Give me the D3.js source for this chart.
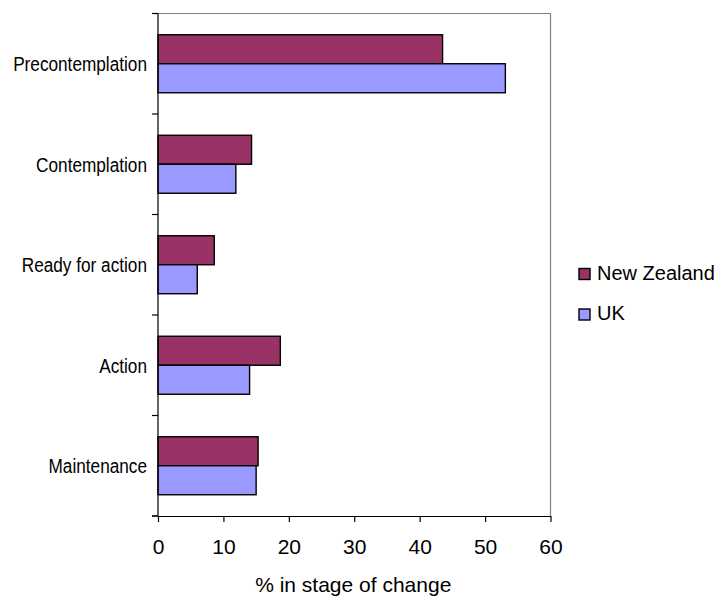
<!DOCTYPE html>
<html>
<head>
<meta charset="utf-8">
<script src="https://cdn.jsdelivr.net/npm/d3@7"></script>
<style>
  html, body { margin: 0; padding: 0; background: #fff; }
  svg { display: block; font-family: "Liberation Sans", Arial, sans-serif; }
</style>
</head>
<body>
<svg id="chart" width="723" height="597"></svg>
<script>
// Stages of change, top to bottom
const stages = ["Precontemplation", "Contemplation", "Ready for action", "Action", "Maintenance"];
const seriesNames = ["New Zealand", "UK"];
const newZealand = [43.5, 14.3, 8.6, 18.7, 15.3];
const uk = [53.1, 11.9, 6.0, 14.0, 15.0];
const xTicks = [0, 10, 20, 30, 40, 50, 60];
const seriesColors = ["#993366", "#9999FF"];

const seriesValues = [newZealand, uk];
const rows = stages.map((s, i) => ({
  stage: s,
  values: seriesNames.map((n, k) => ({ name: n, value: seriesValues[k][i], color: seriesColors[k] }))
}));

const plot = { left: 158, right: 550.5, top: 13.5, bottom: 516 };
const svg = d3.select("#chart");

const x = d3.scaleLinear().domain([0, 60]).range([plot.left, plot.right]);
const y = d3.scaleBand().domain(stages).range([plot.top, plot.bottom]).paddingInner(0.423).paddingOuter(0.2115);
const ySub = d3.scaleBand().domain(seriesNames).range([0, y.bandwidth()]);

// Plot frame: grey top and right edges
svg.append("path")
  .attr("d", `M${plot.left},${plot.top}H${plot.right}V${plot.bottom}`)
  .attr("fill", "none").attr("stroke", "#808080").attr("stroke-width", 1.2);

// Bars
const groups = svg.append("g").selectAll("g").data(rows).join("g")
  .attr("transform", d => `translate(0,${y(d.stage)})`);
groups.selectAll("rect").data(d => d.values).join("rect")
  .attr("x", x(0))
  .attr("y", d => ySub(d.name))
  .attr("width", d => x(d.value) - x(0))
  .attr("height", ySub.bandwidth())
  .attr("fill", d => d.color)
  .attr("stroke", "#000").attr("stroke-width", 1.4);

// Category axis: ticks at band boundaries
const yAxis = svg.append("g");
yAxis.append("line")
  .attr("x1", plot.left).attr("x2", plot.left)
  .attr("y1", plot.top).attr("y2", plot.bottom)
  .attr("stroke", "#000").attr("stroke-width", 1.2);
const step = (plot.bottom - plot.top) / stages.length;
d3.range(stages.length + 1).forEach(i => {
  yAxis.append("line")
    .attr("x1", plot.left - 6).attr("x2", plot.left)
    .attr("y1", plot.top + i * step).attr("y2", plot.top + i * step)
    .attr("stroke", "#000").attr("stroke-width", 1.2);
});
// Narrow-set category labels
yAxis.selectAll("text.cat").data(stages).join("text")
  .attr("class", "cat")
  .attr("x", 147)
  .attr("y", d => y(d) + y.bandwidth() / 2 + 7.5)
  .attr("text-anchor", "end")
  .attr("font-size", 20)
  .attr("fill", "#000")
  .text(d => d)
  .each(function () {
    const w = this.getComputedTextLength();
    d3.select(this).attr("textLength", w * 0.86).attr("lengthAdjust", "spacingAndGlyphs");
  });

// Value axis
const xAxis = svg.append("g").attr("transform", `translate(0,${plot.bottom})`)
  .call(d3.axisBottom(x).tickValues(xTicks).tickSize(6).tickPadding(0).tickSizeOuter(0));
xAxis.select(".domain").attr("stroke", "#000").attr("stroke-width", 1.2);
xAxis.selectAll(".tick line").attr("stroke", "#000").attr("stroke-width", 1.2);
xAxis.selectAll(".tick text")
  .attr("font-size", 21).attr("font-family", "Liberation Sans, Arial, sans-serif")
  .attr("fill", "#000").attr("dy", null).attr("y", 38);
// extend the axis line slightly left of zero, as the tick marks do
xAxis.append("line").attr("x1", plot.left - 6).attr("x2", plot.left)
  .attr("stroke", "#000").attr("stroke-width", 1.2);

svg.append("text")
  .attr("x", (plot.left + plot.right) / 2 - 1)
  .attr("y", 592)
  .attr("text-anchor", "middle")
  .attr("font-size", 21)
  .attr("fill", "#000")
  .text("% in stage of change");

// Legend
const legend = svg.append("g").selectAll("g").data(seriesNames).join("g")
  .attr("transform", (d, i) => `translate(579,${268.5 + i * 40.5})`);
legend.append("rect")
  .attr("width", 11).attr("height", 11)
  .attr("fill", (d, i) => seriesColors[i])
  .attr("stroke", "#000").attr("stroke-width", 1.4);
legend.append("text")
  .attr("x", 18).attr("y", 11)
  .attr("font-size", 20)
  .attr("fill", "#000")
  .text(d => d);
</script>
</body>
</html>
